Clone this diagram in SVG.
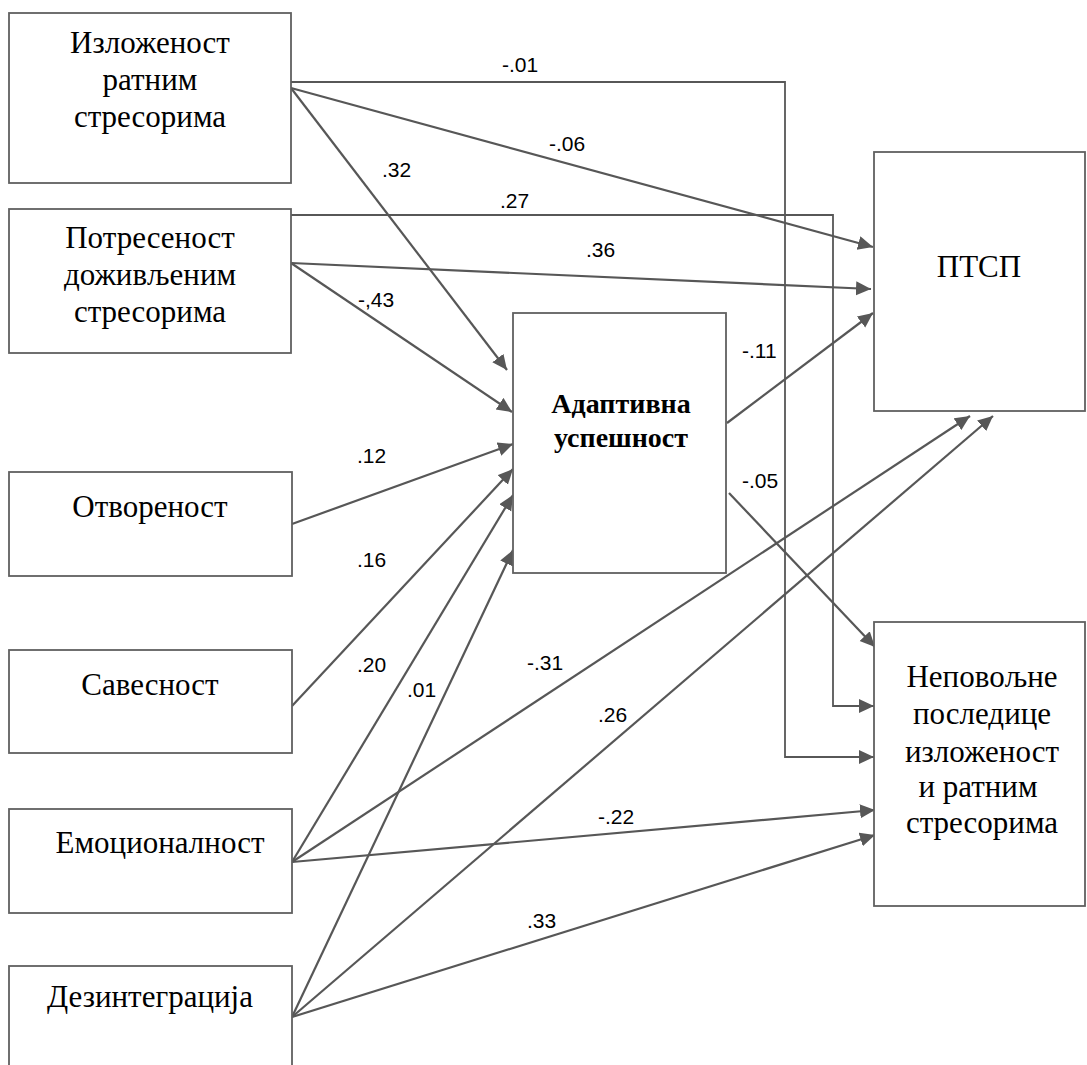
<svg xmlns="http://www.w3.org/2000/svg" width="1087" height="1065" viewBox="0 0 1087 1065">
<style>
.box{fill:#fff;stroke:#606060;stroke-width:1.8}
.lbl{font-family:"Liberation Serif","Times New Roman",serif;font-size:31px;fill:#000;text-anchor:middle}
.bold{font-weight:bold;font-size:28px}
.num{font-family:"Liberation Sans",Arial,sans-serif;font-size:21px;fill:#000}
.c{fill:none;stroke:#575757;stroke-width:2.2;marker-end:url(#ah)}
.o{stroke-width:1.8}
</style>
<defs>
<marker id="ah" markerUnits="userSpaceOnUse" markerWidth="16" markerHeight="15" refX="15" refY="7" orient="auto">
<path d="M0,0 L15,7 L0,14 z" fill="#575757"/>
</marker>
</defs>
<rect width="1087" height="1065" fill="#fff"/>
<g id="connectors">
<polyline class="c o" points="291,82 785,82 785,757 874,757"/>
<polyline class="c o" points="291,215 833,215 833,706 874,706"/>
<line class="c" x1="291" y1="88" x2="873" y2="247"/>
<line class="c" x1="291" y1="263" x2="871" y2="289"/>
<line class="c" x1="291" y1="88" x2="507" y2="370"/>
<line class="c" x1="291" y1="263" x2="512" y2="412"/>
<line class="c" x1="292" y1="524" x2="513" y2="444"/>
<line class="c" x1="292" y1="706" x2="513" y2="469"/>
<line class="c" x1="292" y1="862" x2="513" y2="495"/>
<line class="c" x1="292" y1="1017" x2="513" y2="550"/>
<line class="c" x1="292" y1="862" x2="970" y2="416"/>
<line class="c" x1="292" y1="1017" x2="993" y2="416"/>
<line class="c" x1="292" y1="862" x2="875" y2="810"/>
<line class="c" x1="292" y1="1017" x2="875" y2="835"/>
<line class="c" x1="727" y1="423" x2="873" y2="313"/>
<line class="c" x1="729" y1="493" x2="875" y2="647"/>
</g>
<g id="weights" class="num">
<text x="502" y="72">-.01</text>
<text x="500" y="208">.27</text>
<text x="549" y="151">-.06</text>
<text x="586" y="257">.36</text>
<text x="382" y="177">.32</text>
<text x="358" y="307">-,43</text>
<text x="357" y="463">.12</text>
<text x="357" y="567">.16</text>
<text x="357" y="672">.20</text>
<text x="407" y="697">.01</text>
<text x="527" y="670">-.31</text>
<text x="598" y="722">.26</text>
<text x="598" y="824">-.22</text>
<text x="527" y="928">.33</text>
<text x="742" y="358">-.11</text>
<text x="742" y="488">-.05</text>
</g>
<g id="n-izlozenost">
<rect class="box" x="9" y="13" width="282" height="170"/>
<text class="lbl" x="150" y="53">Изложеност</text>
<text class="lbl" x="150" y="90">ратним</text>
<text class="lbl" x="150" y="127">стресорима</text>
</g>
<g id="n-potresenost">
<rect class="box" x="9" y="209" width="282" height="144"/>
<text class="lbl" x="150" y="248">Потресеност</text>
<text class="lbl" x="150" y="285">доживљеним</text>
<text class="lbl" x="150" y="322">стресорима</text>
</g>
<g id="n-otvorenost">
<rect class="box" x="9" y="472" width="283" height="104"/>
<text class="lbl" x="150" y="517">Отвореност</text>
</g>
<g id="n-savesnost">
<rect class="box" x="9" y="650" width="283" height="103"/>
<text class="lbl" x="150" y="695">Савесност</text>
</g>
<g id="n-emocionalnost">
<rect class="box" x="9" y="809" width="283" height="104"/>
<text class="lbl" x="160" y="853">Емоционалност</text>
</g>
<g id="n-dezintegracija">
<rect class="box" x="9" y="966" width="283" height="120"/>
<text class="lbl" x="150" y="1007">Дезинтеграција</text>
</g>
<g id="n-adaptivna">
<rect class="box" x="513" y="313" width="213" height="260"/>
<text class="lbl bold" x="621" y="413">Адаптивна</text>
<text class="lbl bold" x="621" y="447">успешност</text>
</g>
<g id="n-ptsp">
<rect class="box" x="874" y="152" width="211" height="259"/>
<text class="lbl" x="979" y="277">ПТСП</text>
</g>
<g id="n-nepovoljne">
<rect class="box" x="874" y="622" width="211" height="284"/>
<text class="lbl" x="982" y="687">Неповољне</text>
<text class="lbl" x="982" y="724">последице</text>
<text class="lbl" x="982" y="762">изложеност</text>
<text class="lbl" x="978" y="797">и ратним</text>
<text class="lbl" x="982" y="833">стресорима</text>
</g>
</svg>
